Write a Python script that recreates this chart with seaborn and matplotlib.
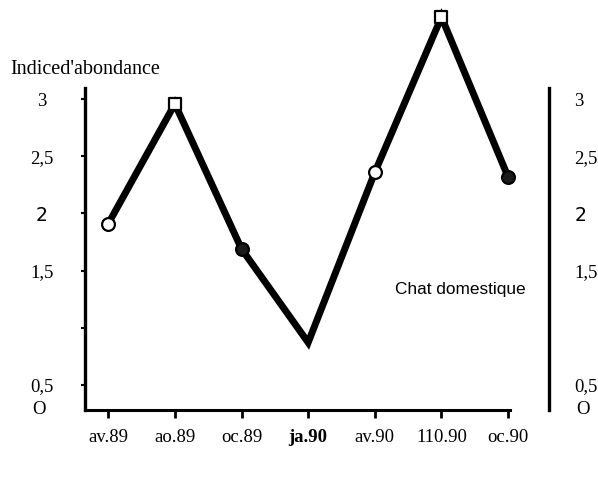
import matplotlib
matplotlib.use("Agg")
import matplotlib.pyplot as plt
import seaborn as sns
import pandas as pd

# Sampling dates and abundance index of the domestic cat
dates = ["av.89", "ao.89", "oc.89", "ja.90", "av.90", "110.90", "oc.90"]
abundance = [1.91, 2.96, 1.69, 0.87, 2.36, 3.72, 2.32]
marker_kind = ["circle", "square", "dark", "none", "circle", "square", "dark"]

y_ticks = [3, 2.5, 2, 1.5, 1, 0.5]
y_labels = ["3", "2,5", "2", "1,5", "", "0,5"]

sns.set_theme(style="white")
plt.rcParams["font.family"] = ["Liberation Serif", "DejaVu Serif"]
plt.rcParams["text.color"] = "black"
plt.rcParams["xtick.color"] = "black"
plt.rcParams["ytick.color"] = "black"

df = pd.DataFrame({"pos": range(len(dates)), "date": dates,
                   "value": abundance, "kind": marker_kind})

fig = plt.figure(figsize=(5.98, 4.8), dpi=100)
ax = fig.add_axes([0.142, 0.146, 0.711, 0.671])

sns.lineplot(data=df, x="pos", y="value", ax=ax, color="black",
             linewidth=5.0, solid_joinstyle="miter", clip_on=False)

styles = {
    "circle": dict(marker="o", facecolor="white", s=85),
    "square": dict(marker="s", facecolor="white", s=75),
    "dark": dict(marker="o", facecolor="#1a1a1a", s=85),
}
for kind, st in styles.items():
    sub = df[df["kind"] == kind]
    sns.scatterplot(data=sub, x="pos", y="value", ax=ax, marker=st["marker"],
                    facecolor=st["facecolor"], edgecolor="black", linewidth=1.6,
                    s=st["s"], zorder=5, clip_on=False, legend=False)

ax.set_xlim(-0.35, 6.03)
ax.set_ylim(0.28, 3.1)
ax.set_xlabel("")
ax.set_ylabel("")

ax.set_xticks(range(len(dates)))
ax.set_xticklabels(dates, fontsize=13.5, color="black")
ax.get_xticklabels()[3].set_fontweight("bold")
ax.tick_params(axis="x", direction="out", length=6, width=2, color="black",
               labelcolor="black", pad=8, bottom=True)

ax.set_yticks(y_ticks)
ax.set_yticklabels(y_labels, fontsize=13.5, color="black")
for t in ax.get_yticklabels():
    t.set_horizontalalignment("center")
ax.get_yticklabels()[2].set_family("DejaVu Sans")
ax.tick_params(axis="y", direction="out", length=3, width=1.5, color="black",
               labelcolor="black", pad=28, left=True)

for side in ["top", "right"]:
    ax.spines[side].set_visible(False)
ax.spines["left"].set_linewidth(2.4)
ax.spines["bottom"].set_linewidth(2.2)
for side in ["left", "bottom"]:
    ax.spines[side].set_color("black")

# Duplicate scale on the right-hand side
ax2 = ax.twinx()
ax2.set_ylim(ax.get_ylim())
for side in ["top", "left", "bottom"]:
    ax2.spines[side].set_visible(False)
ax2.spines["right"].set_position(("axes", 1.092))
ax2.spines["right"].set_linewidth(2.4)
ax2.spines["right"].set_color("black")
ax2.set_yticks(y_ticks)
ax2.set_yticklabels(y_labels, fontsize=13.5, color="black")
ax2.get_yticklabels()[2].set_family("DejaVu Sans")
ax2.tick_params(axis="y", length=0, pad=18, right=True, labelcolor="black")

# Zero labels at the foot of both scales
ax.text(-0.108, 0.0, "O", transform=ax.transAxes, fontsize=13.5,
        color="black", ha="center", va="center")
ax.text(1.172, 0.0, "O", transform=ax.transAxes, fontsize=13.5,
        color="black", ha="center", va="center")

fig.text(10 / 598, 1 - 70 / 480, "Indiced'abondance", fontsize=14.5,
         color="black", ha="left", va="center")
ax.text(4.3, 1.33, "Chat domestique", fontsize=12.4, color="black",
        family=["Liberation Sans", "DejaVu Sans"], ha="left", va="center")

fig.savefig("out.png", dpi=100)
